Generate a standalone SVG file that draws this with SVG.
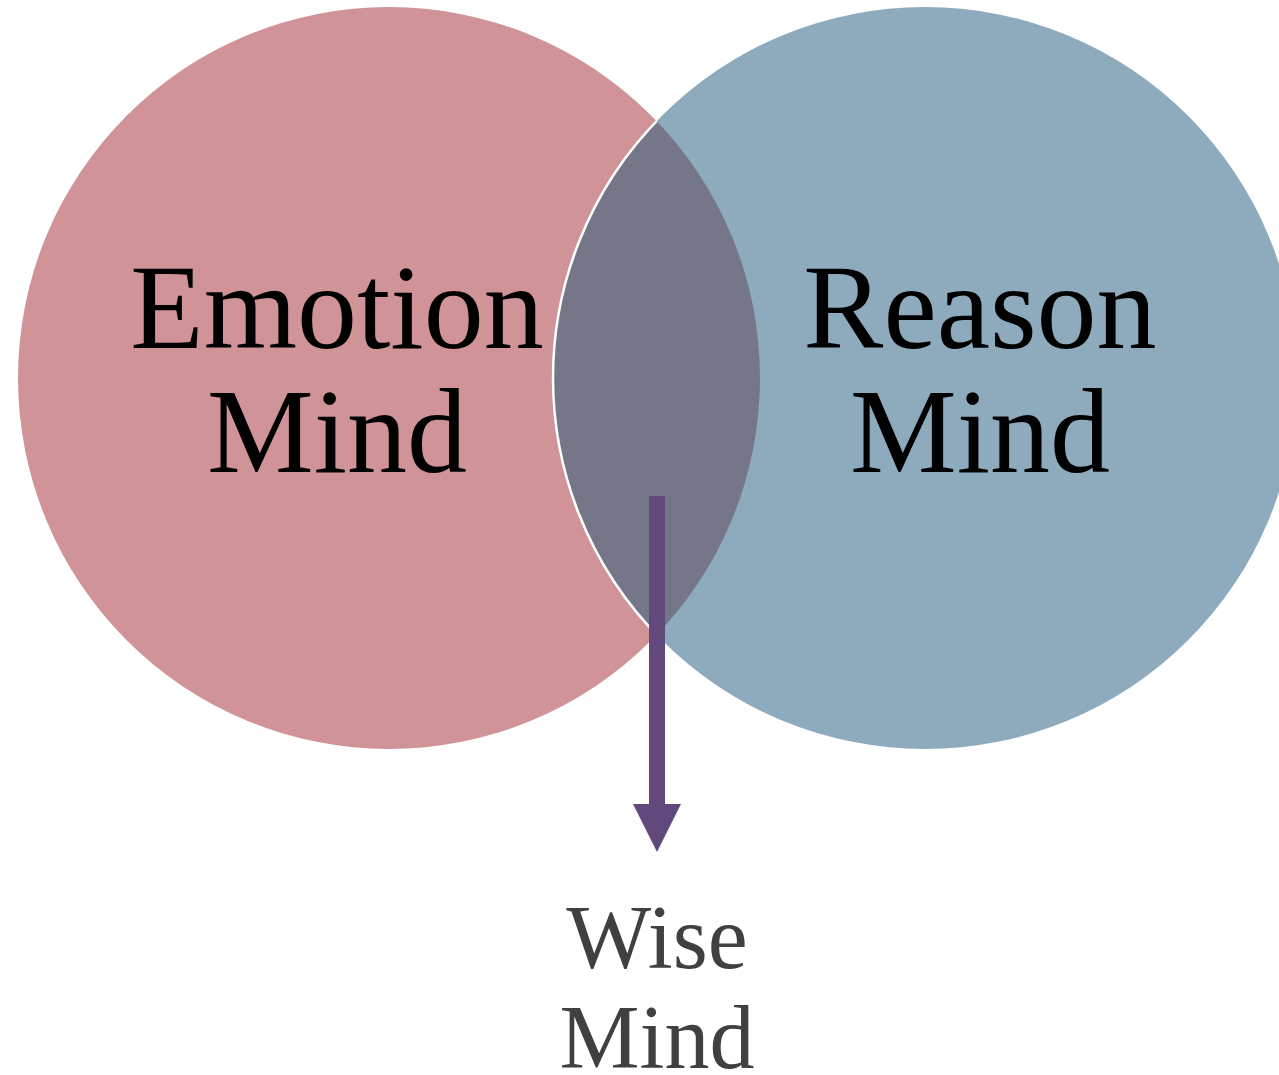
<svg xmlns="http://www.w3.org/2000/svg" width="1279" height="1075" viewBox="0 0 1279 1075">
<style>
.big{font-family:"Liberation Serif","Times New Roman",serif;font-size:120px;fill:#000;text-anchor:middle}
.wise{font-family:"Liberation Serif","Times New Roman",serif;font-size:90px;fill:#404040;text-anchor:middle}
</style>
<defs>
<clipPath id="leftClip"><ellipse cx="389" cy="378" rx="371" ry="371"/></clipPath>
</defs>
<rect width="1279" height="1075" fill="#fff"/>
<g id="emotion">
<ellipse cx="389" cy="378" rx="371" ry="371" fill="#cf9398"/>
</g>
<g id="reason">
<ellipse cx="925" cy="378" rx="372" ry="371" fill="#8eabbe"/>
</g>
<g id="overlap" clip-path="url(#leftClip)">
<ellipse cx="925" cy="378" rx="372" ry="371" fill="#767689" stroke="#fff" stroke-width="2.5"/>
</g>
<g id="labels">
<text class="big" x="337" y="348">Emotion</text>
<text class="big" x="337" y="472">Mind</text>
<text class="big" x="980" y="348">Reason</text>
<text class="big" x="980" y="472">Mind</text>
</g>
<g id="connectors">
<rect x="649" y="496" width="16" height="310" fill="#614a7b"/>
<polygon points="633,804 681,804 657,852" fill="#614a7b"/>
</g>
<g id="wise">
<text class="wise" x="657" y="968">Wise</text>
<text class="wise" x="657" y="1068">Mind</text>
</g>
</svg>
